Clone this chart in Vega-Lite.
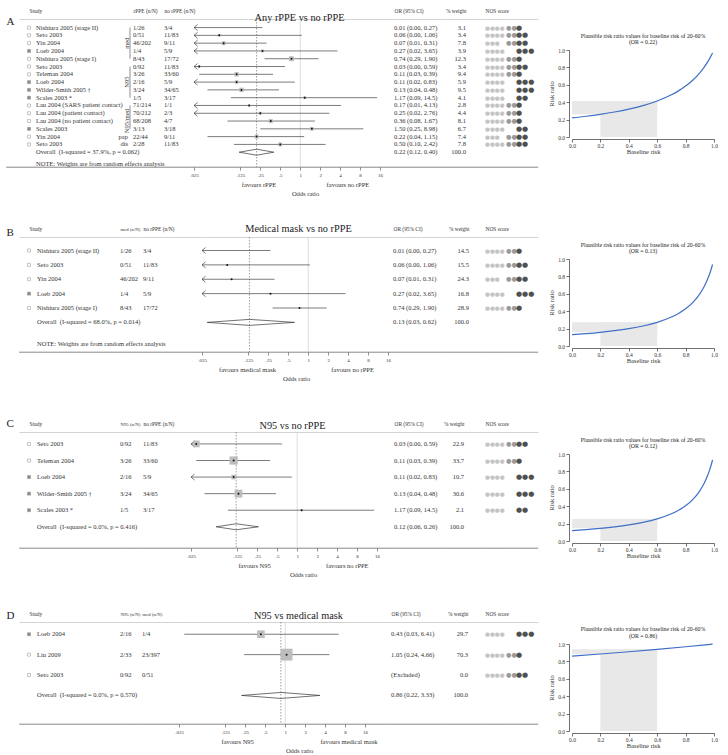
{
"$schema":"https://vega.github.io/schema/vega-lite/v6.json",
"padding":{"left":5,"top":8,"right":0,"bottom":0},
"background":"#ffffff",
"config":{
"font":"Liberation Serif",
"view":{"stroke":null},
"text":{"fontSize":6.5,"color":"#333333","baseline":"middle","font":"Liberation Serif"},
"title":{"fontWeight":"normal","color":"#222222","font":"Liberation Serif"},
"axis":{"labelFont":"Liberation Serif","titleFont":"Liberation Serif","labelColor":"#333333","titleColor":"#333333","titleFontWeight":"normal","grid":false,"domainColor":"#333333","tickColor":"#333333","labelOverlap":false},
"axisTop":{"domain":true,"domainColor":"#c8c8c8","domainWidth":0.8,"ticks":false,"labelPadding":5.5,"labelFontSize":5.4,"labelAngle":0},
"point":{"opacity":1}
},
"datasets":{
"A":[
{"id":"a1","kind":"study","mk":"open","name":"Nishiura 2005 (stage II)","n1":"1/26","n2":"3/4","or":0.01,"lo":0,"hi":0.27,"ci":"0.01 (0.00, 0.27)","w":3.1,"s":"●●●●","c":"●●","o":"●"},
{"id":"a2","kind":"study","mk":"open","name":"Seto 2003","n1":"0/51","n2":"11/83","or":0.06,"lo":0,"hi":1.06,"ci":"0.06 (0.00, 1.06)","w":3.4,"s":"●●●●","c":"●●","o":"●●"},
{"id":"a3","kind":"study","mk":"open","name":"Yin 2004","n1":"46/202","n2":"9/11","or":0.07,"lo":0.01,"hi":0.31,"ci":"0.07 (0.01, 0.31)","w":7.8,"s":"●●●","c":"●●","o":"●●"},
{"id":"a4","kind":"study","mk":"filled","name":"Loeb 2004","n1":"1/4","n2":"5/9","or":0.27,"lo":0.02,"hi":3.65,"ci":"0.27 (0.02, 3.65)","w":3.9,"s":"●●●●","c":"","o":"●●●"},
{"id":"a5","kind":"study","mk":"open","name":"Nishiura 2005 (stage I)","n1":"8/43","n2":"17/72","or":0.74,"lo":0.29,"hi":1.9,"ci":"0.74 (0.29, 1.90)","w":12.3,"s":"●●●●","c":"●●","o":"●"},
{"id":"a6","kind":"study","mk":"open","name":"Seto 2003","n1":"0/92","n2":"11/83","or":0.03,"lo":0,"hi":0.59,"ci":"0.03 (0.00, 0.59)","w":3.4,"s":"●●●●","c":"●●","o":"●●"},
{"id":"a7","kind":"study","mk":"open","name":"Teleman 2004","n1":"3/26","n2":"33/60","or":0.11,"lo":0.03,"hi":0.39,"ci":"0.11 (0.03, 0.39)","w":9.4,"s":"●●●●","c":"●●","o":"●"},
{"id":"a8","kind":"study","mk":"filled","name":"Loeb 2004","n1":"2/16","n2":"5/9","or":0.11,"lo":0.02,"hi":0.83,"ci":"0.11 (0.02, 0.83)","w":5.9,"s":"●●●●","c":"","o":"●●●"},
{"id":"a9","kind":"study","mk":"filled","name":"Wilder-Smith 2005 †","n1":"3/24","n2":"34/65","or":0.13,"lo":0.04,"hi":0.48,"ci":"0.13 (0.04, 0.48)","w":9.5,"s":"●●●●","c":"","o":"●●●"},
{"id":"a10","kind":"study","mk":"filled","name":"Scales 2003 *","n1":"1/5","n2":"3/17","or":1.17,"lo":0.09,"hi":14.5,"ci":"1.17 (0.09, 14.5)","w":4.1,"s":"●●●●","c":"","o":"●●"},
{"id":"a11","kind":"study","mk":"open","name":"Lau 2004 (SARS patient contact)","n1":"71/214","n2":"1/1","or":0.17,"lo":0.01,"hi":4.13,"ci":"0.17 (0.01, 4.13)","w":2.8,"s":"●●●●","c":"●●","o":"●"},
{"id":"a12","kind":"study","mk":"open","name":"Lau 2004 (patient contact)","n1":"70/212","n2":"2/3","or":0.25,"lo":0.02,"hi":2.76,"ci":"0.25 (0.02, 2.76)","w":4.4,"s":"●●●●","c":"●●","o":"●"},
{"id":"a13","kind":"study","mk":"open","name":"Lau 2004 (no patient contact)","n1":"68/208","n2":"4/7","or":0.36,"lo":0.08,"hi":1.67,"ci":"0.36 (0.08, 1.67)","w":8.1,"s":"●●●●","c":"●●","o":"●"},
{"id":"a14","kind":"study","mk":"filled","name":"Scales 2003","n1":"3/13","n2":"3/18","or":1.5,"lo":0.25,"hi":8.98,"ci":"1.50 (0.25, 8.98)","w":6.7,"s":"●●●●","c":"","o":"●●"},
{"id":"a15","kind":"study","mk":"open","name":"Yin 2004","type":"pap","n1":"22/44","n2":"9/11","or":0.22,"lo":0.04,"hi":1.15,"ci":"0.22 (0.04, 1.15)","w":7.4,"s":"●●●","c":"●●","o":"●●"},
{"id":"a16","kind":"study","mk":"open","name":"Seto 2003","type":"dis","n1":"2/28","n2":"11/83","or":0.5,"lo":0.1,"hi":2.42,"ci":"0.50 (0.10, 2.42)","w":7.8,"s":"●●●●","c":"●●","o":"●●"},
{"id":"aO","kind":"overall","name":"Overall\u00a0\u00a0(I-squared = 37.9%, p = 0.062)","or":0.22,"lo":0.12,"hi":0.4,"ci":"0.22 (0.12, 0.40)","w":100},
{"id":"aN","kind":"note","name":"NOTE: Weights are from random effects analysis"}
],
"gA":[
{"g":"med","from":"a1","to":"a5","mid":"a3"},
{"g":"N95","from":"a6","to":"a10","mid":"a8"},
{"g":"N95/med","from":"a11","to":"a14","mid":"a13"}
],
"dA":[{"x":0.12,"h":0},{"x":0.22,"h":1},{"x":0.4,"h":0},{"x":0.22,"h":-1}],
"B":[
{"id":"b1","kind":"study","mk":"open","name":"Nishiura 2005 (stage II)","n1":"1/26","n2":"3/4","or":0.01,"lo":0,"hi":0.27,"ci":"0.01 (0.00, 0.27)","w":14.5,"s":"●●●●","c":"●●","o":"●"},
{"id":"b2","kind":"study","mk":"open","name":"Seto 2003","n1":"0/51","n2":"11/83","or":0.06,"lo":0,"hi":1.06,"ci":"0.06 (0.00, 1.06)","w":15.5,"s":"●●●●","c":"●●","o":"●●"},
{"id":"b3","kind":"study","mk":"open","name":"Yin 2004","n1":"46/202","n2":"9/11","or":0.07,"lo":0.01,"hi":0.31,"ci":"0.07 (0.01, 0.31)","w":24.3,"s":"●●●","c":"●●","o":"●●"},
{"id":"b4","kind":"study","mk":"filled","name":"Loeb 2004","n1":"1/4","n2":"5/9","or":0.27,"lo":0.02,"hi":3.65,"ci":"0.27 (0.02, 3.65)","w":16.8,"s":"●●●●","c":"","o":"●●●"},
{"id":"b5","kind":"study","mk":"open","name":"Nishiura 2005 (stage I)","n1":"8/43","n2":"17/72","or":0.74,"lo":0.29,"hi":1.9,"ci":"0.74 (0.29, 1.90)","w":28.9,"s":"●●●●","c":"●●","o":"●"},
{"id":"bO","kind":"overall","name":"Overall\u00a0\u00a0(I-squared = 68.0%, p = 0.014)","or":0.13,"lo":0.03,"hi":0.62,"ci":"0.13 (0.03, 0.62)","w":100},
{"id":"bN","kind":"note","name":"NOTE: Weights are from random effects analysis"}
],
"dB":[{"x":0.03,"h":0},{"x":0.13,"h":1},{"x":0.62,"h":0},{"x":0.13,"h":-1}],
"C":[
{"id":"c1","kind":"study","mk":"open","name":"Seto 2003","n1":"0/92","n2":"11/83","or":0.03,"lo":0,"hi":0.59,"ci":"0.03 (0.00, 0.59)","w":22.9,"s":"●●●●","c":"●●","o":"●●"},
{"id":"c2","kind":"study","mk":"open","name":"Teleman 2004","n1":"3/26","n2":"33/60","or":0.11,"lo":0.03,"hi":0.39,"ci":"0.11 (0.03, 0.39)","w":33.7,"s":"●●●●","c":"●●","o":"●"},
{"id":"c3","kind":"study","mk":"filled","name":"Loeb 2004","n1":"2/16","n2":"5/9","or":0.11,"lo":0.02,"hi":0.83,"ci":"0.11 (0.02, 0.83)","w":10.7,"s":"●●●●","c":"","o":"●●●"},
{"id":"c4","kind":"study","mk":"filled","name":"Wilder-Smith 2005 †","n1":"3/24","n2":"34/65","or":0.13,"lo":0.04,"hi":0.48,"ci":"0.13 (0.04, 0.48)","w":30.6,"s":"●●●●","c":"","o":"●●●"},
{"id":"c5","kind":"study","mk":"filled","name":"Scales 2003 *","n1":"1/5","n2":"3/17","or":1.17,"lo":0.09,"hi":14.5,"ci":"1.17 (0.09, 14.5)","w":2.1,"s":"●●●●","c":"","o":"●●"},
{"id":"cO","kind":"overall","name":"Overall\u00a0\u00a0(I-squared = 0.0%, p = 0.416)","or":0.12,"lo":0.06,"hi":0.26,"ci":"0.12 (0.06, 0.26)","w":100}
],
"dC":[{"x":0.06,"h":0},{"x":0.12,"h":1},{"x":0.26,"h":0},{"x":0.12,"h":-1}],
"D":[
{"id":"d1","kind":"study","mk":"filled","name":"Loeb 2004","n1":"2/16","n2":"1/4","or":0.43,"lo":0.03,"hi":6.41,"ci":"0.43 (0.03, 6.41)","w":29.7,"s":"●●●●","c":"","o":"●●●"},
{"id":"d2","kind":"study","mk":"open","name":"Liu 2009","n1":"2/33","n2":"23/397","or":1.05,"lo":0.24,"hi":4.66,"ci":"1.05 (0.24, 4.66)","w":70.3,"s":"●●●●","c":"●●","o":"●"},
{"id":"d3","kind":"study","mk":"open","name":"Seto 2003","n1":"0/92","n2":"0/51","ci":"(Excluded)","w":0,"s":"●●●●","c":"●●","o":"●●"},
{"id":"dO","kind":"overall","name":"Overall\u00a0\u00a0(I-squared = 0.0%, p = 0.570)","or":0.86,"lo":0.22,"hi":3.33,"ci":"0.86 (0.22, 3.33)","w":100}
],
"dD":[{"x":0.22,"h":0},{"x":0.86,"h":1},{"x":3.33,"h":0},{"x":0.86,"h":-1}],
"risk":[
{"pn":"A","p":0,"rr":0.22},{"pn":"A","p":0.1,"rr":0.2386},{"pn":"A","p":0.2,"rr":0.2607},{"pn":"A","p":0.3,"rr":0.2872},{"pn":"A","p":0.4,"rr":0.3198},{"pn":"A","p":0.5,"rr":0.3607},{"pn":"A","p":0.6,"rr":0.4135},{"pn":"A","p":0.7,"rr":0.4846},{"pn":"A","p":0.75,"rr":0.5301},{"pn":"A","p":0.8,"rr":0.5851},{"pn":"A","p":0.85,"rr":0.6528},{"pn":"A","p":0.9,"rr":0.7383},{"pn":"A","p":0.93,"rr":0.8012},{"pn":"A","p":0.95,"rr":0.8494},{"pn":"A","p":0.97,"rr":0.9039},{"pn":"A","p":0.99,"rr":0.9658},
{"pn":"B","p":0,"rr":0.13},{"pn":"B","p":0.1,"rr":0.1424},{"pn":"B","p":0.2,"rr":0.1574},{"pn":"B","p":0.3,"rr":0.1759},{"pn":"B","p":0.4,"rr":0.1994},{"pn":"B","p":0.5,"rr":0.2301},{"pn":"B","p":0.6,"rr":0.272},{"pn":"B","p":0.7,"rr":0.3325},{"pn":"B","p":0.75,"rr":0.3741},{"pn":"B","p":0.8,"rr":0.4276},{"pn":"B","p":0.85,"rr":0.499},{"pn":"B","p":0.9,"rr":0.5991},{"pn":"B","p":0.93,"rr":0.681},{"pn":"B","p":0.95,"rr":0.7493},{"pn":"B","p":0.97,"rr":0.8328},{"pn":"B","p":0.99,"rr":0.9373},
{"pn":"C","p":0,"rr":0.12},{"pn":"C","p":0.1,"rr":0.1316},{"pn":"C","p":0.2,"rr":0.1456},{"pn":"C","p":0.3,"rr":0.163},{"pn":"C","p":0.4,"rr":0.1852},{"pn":"C","p":0.5,"rr":0.2143},{"pn":"C","p":0.6,"rr":0.2542},{"pn":"C","p":0.7,"rr":0.3125},{"pn":"C","p":0.75,"rr":0.3529},{"pn":"C","p":0.8,"rr":0.4054},{"pn":"C","p":0.85,"rr":0.4762},{"pn":"C","p":0.9,"rr":0.5769},{"pn":"C","p":0.93,"rr":0.6608},{"pn":"C","p":0.95,"rr":0.7317},{"pn":"C","p":0.97,"rr":0.8197},{"pn":"C","p":0.99,"rr":0.9317},
{"pn":"D","p":0,"rr":0.86},{"pn":"D","p":0.2,"rr":0.8848},{"pn":"D","p":0.4,"rr":0.911},{"pn":"D","p":0.6,"rr":0.9389},{"pn":"D","p":0.8,"rr":0.9685},{"pn":"D","p":0.99,"rr":0.9984}
],
"riskRect":[
{"pn":"A","x":0,"x2":0.6,"y":0.2607,"y2":0.4135},{"pn":"A","x":0.2,"x2":0.6,"y":0,"y2":0.4135},
{"pn":"B","x":0,"x2":0.6,"y":0.1574,"y2":0.272},{"pn":"B","x":0.2,"x2":0.6,"y":0,"y2":0.272},
{"pn":"C","x":0,"x2":0.6,"y":0.1456,"y2":0.2542},{"pn":"C","x":0.2,"x2":0.6,"y":0,"y2":0.2542},
{"pn":"D","x":0,"x2":0.6,"y":0.8848,"y2":0.9389},{"pn":"D","x":0.2,"x2":0.6,"y":0,"y2":0.9389}
]
},
"hconcat":[
{"vconcat":[
{"hconcat":[
{"width":23,"height":148,"data":{"name":"A"},"transform":[{"filter":"datum.kind=='overall'"}],"mark":{"type":"text"},"encoding":{"text":{"value":""},"x":{"datum":"lead","type":"nominal","scale":{"type":"point","range":[13,23]},"axis":{"orient":"top","title":"A","titleX":0,"titleY":5,"titleAlign":"left","titleBaseline":"alphabetic","titleFontSize":11,"titleColor":"#222222","labels":false}}},"view":{"stroke":"#555555","strokeWidth":0.7,"strokeDash":[0,171,23,148]}},
{"width":7,"height":148,"data":{"name":"A"},"transform":[{"filter":"isValid(datum.mk)"}],"mark":{"type":"point","shape":"square","filled":true,"size":9,"stroke":"#8c8c8c","strokeWidth":0.5},"encoding":{"x":{"datum":"Study","type":"nominal","scale":{"type":"point","align":0},"axis":{"orient":"top","title":null,"labelAlign":"left"}},"y":{"field":"id","type":"nominal","scale":{"type":"point","domain":["a1","a2","a3","a4","a5","a6","a7","a8","a9","a10","a11","a12","a13","a14","a15","a16","aO","aN"],"padding":1.05,"align":0.55},"axis":null},"fill":{"field":"mk","type":"nominal","scale":{"domain":["open","filled"],"range":["#ffffff","#8c8c8c"]},"legend":null}},"view":{"stroke":"#555555","strokeWidth":0.7,"strokeDash":[0,155,7,148]}},
{"width":85,"height":148,"data":{"name":"A"},"encoding":{"x":{"datum":"name","type":"nominal","scale":{"type":"point","align":0},"axis":{"orient":"top","title":null,"labels":false}},"y":{"field":"id","type":"nominal","scale":{"type":"point","domain":["a1","a2","a3","a4","a5","a6","a7","a8","a9","a10","a11","a12","a13","a14","a15","a16","aO","aN"],"padding":1.05,"align":0.55},"axis":null},"text":{"field":"name"}},"layer":[{"transform":[{"filter":"datum.kind!='note'"}],"mark":{"type":"text","align":"left"}},{"transform":[{"filter":"datum.kind=='note'"}],"mark":{"type":"text","align":"left","dy":4}}],"view":{"stroke":"#555555","strokeWidth":0.7,"strokeDash":[0,233,85,148]}},
{"width":12,"height":148,"encoding":{"x":{"datum":"grp","type":"nominal","scale":{"type":"point","align":0.75},"axis":{"orient":"top","title":null,"labels":false}}},"layer":[
{"data":{"name":"gA"},"mark":{"type":"rule","color":"#444444","strokeWidth":0.6},"encoding":{"y":{"field":"from","type":"nominal","scale":{"type":"point","domain":["a1","a2","a3","a4","a5","a6","a7","a8","a9","a10","a11","a12","a13","a14","a15","a16","aO","aN"],"padding":1.05,"align":0.55},"axis":null},"y2":{"field":"to"}}},
{"data":{"name":"gA"},"mark":{"type":"text","angle":270,"baseline":"bottom","align":"center"},"encoding":{"y":{"field":"mid","type":"nominal","axis":null},"text":{"field":"g"}}},
{"data":{"name":"A"},"transform":[{"filter":"isValid(datum.type)"}],"mark":{"type":"text","align":"right","dx":-2},"encoding":{"y":{"field":"id","type":"nominal","axis":null},"text":{"field":"type"}}}
],"view":{"stroke":"#555555","strokeWidth":0.7,"strokeDash":[0,160,12,148]}},
{"width":31,"height":148,"data":{"name":"A"},"transform":[{"filter":"datum.kind=='study'"}],"mark":{"type":"text","align":"left"},"encoding":{"x":{"datum":"rPPE (n/N)","type":"nominal","scale":{"type":"point","align":0},"axis":{"orient":"top","title":null,"labelAlign":"left"}},"y":{"field":"id","type":"nominal","scale":{"type":"point","domain":["a1","a2","a3","a4","a5","a6","a7","a8","a9","a10","a11","a12","a13","a14","a15","a16","aO","aN"],"padding":1.05,"align":0.55},"axis":null},"text":{"field":"n1"}},"view":{"stroke":"#555555","strokeWidth":0.7,"strokeDash":[0,179,31,148]}},
{"width":30,"height":148,"data":{"name":"A"},"transform":[{"filter":"datum.kind=='study'"}],"mark":{"type":"text","align":"left"},"encoding":{"x":{"datum":"no rPPE (n/N)","type":"nominal","scale":{"type":"point","align":0},"axis":{"orient":"top","title":null,"labelAlign":"left"}},"y":{"field":"id","type":"nominal","scale":{"type":"point","domain":["a1","a2","a3","a4","a5","a6","a7","a8","a9","a10","a11","a12","a13","a14","a15","a16","aO","aN"],"padding":1.05,"align":0.55},"axis":null},"text":{"field":"n2"}},"view":{"stroke":"#555555","strokeWidth":0.7,"strokeDash":[0,178,30,148]}},
{"width":200,"height":148,"data":{"name":"A"},"view":{"stroke":"#555555","strokeWidth":0.7,"strokeDash":[0,348,200,148]},"resolve":{"scale":{"x":"independent"},"axis":{"x":"independent"}},"layer":[
{"transform":[{"filter":"datum.kind=='overall'"}],"mark":{"type":"rule","strokeOpacity":0},"encoding":{"x":{"datum":"t","type":"nominal","scale":{"type":"point"},"axis":{"orient":"top","title":"Any rPPE vs no rPPE","titleX":105,"titleY":1,"titleAlign":"center","titleBaseline":"alphabetic","titleFontSize":10.3,"titleColor":"#222222","labels":false}}}},
{"layer":[
{"transform":[{"filter":"datum.kind=='overall'"}],"mark":{"type":"rule","color":"#cfcfcf","strokeWidth":0.7},"encoding":{"x":{"datum":1,"type":"quantitative","scale":{"type":"log","domain":[0.025,16],"range":[0,186],"clamp":true,"nice":false},"axis":{"orient":"bottom","values":[0.025,0.125,0.25,0.5,1,2,4,8,16],"format":"~g","labelExpr":"datum.value < 1 ? substring(datum.label, 1) : datum.label","domain":false,"tickSize":3,"tickColor":"#444444","tickWidth":0.6,"labelFontSize":5,"labelPadding":2,"labelOverlap":false,"labelFlush":false,"title":["favours rPPE\u00a0\u00a0\u00a0\u00a0\u00a0\u00a0\u00a0\u00a0\u00a0\u00a0\u00a0\u00a0\u00a0\u00a0\u00a0\u00a0\u00a0\u00a0\u00a0\u00a0\u00a0\u00a0\u00a0\u00a0\u00a0\u00a0\u00a0\u00a0\u00a0\u00a0\u00a0favours no rPPE","Odds ratio\u00a0\u00a0\u00a0\u00a0"],"titleFontSize":6.5,"titleLineHeight":9,"titlePadding":4,"titleX":111}}}},
{"transform":[{"filter":"datum.kind=='overall'"}],"mark":{"type":"rule","color":"#777777","strokeWidth":0.7,"strokeDash":[1.5,1.5]},"encoding":{"x":{"field":"or","type":"quantitative"}}},
{"transform":[{"filter":"datum.kind=='study' && isValid(datum.hi)"}],"mark":{"type":"rule","color":"#444444","strokeWidth":0.7},"encoding":{"x":{"field":"lo","type":"quantitative"},"x2":{"field":"hi"},"y":{"field":"id","type":"nominal","scale":{"type":"point","domain":["a1","a2","a3","a4","a5","a6","a7","a8","a9","a10","a11","a12","a13","a14","a15","a16","aO","aN"],"padding":1.05,"align":0.55},"axis":null}}},
{"transform":[{"filter":"datum.kind=='study' && isValid(datum.lo) && datum.lo < 0.025"}],"mark":{"type":"point","shape":"M1.2,-1L0,0L1.2,1","filled":false,"stroke":"#444444","strokeWidth":0.7,"size":36},"encoding":{"x":{"field":"lo","type":"quantitative"},"y":{"field":"id","type":"nominal","axis":null}}},
{"transform":[{"filter":"datum.kind=='study' && datum.or >= 0.025"}],"mark":{"type":"point","shape":"square","filled":true,"color":"#bdbdbd"},"encoding":{"x":{"field":"or","type":"quantitative"},"y":{"field":"id","type":"nominal","axis":null},"size":{"field":"w","type":"quantitative","scale":{"domain":[0,100],"range":[0,200]},"legend":null}}},
{"transform":[{"filter":"datum.kind=='study' && datum.or >= 0.025"}],"mark":{"type":"point","shape":"circle","filled":true,"color":"#111111","size":4},"encoding":{"x":{"field":"or","type":"quantitative"},"y":{"field":"id","type":"nominal","axis":null}}},
{"data":{"name":"dA"},"mark":{"type":"line","color":"#333333","strokeWidth":0.7,"interpolate":"linear-closed"},"encoding":{"x":{"field":"x","type":"quantitative"},"y":{"datum":"aO","type":"nominal","axis":null},"yOffset":{"field":"h","type":"quantitative","scale":{"domain":[-1,1],"range":[-3,3]}},"order":{"value":null}}}
]}
]},
{"width":47,"height":148,"data":{"name":"A"},"transform":[{"filter":"isValid(datum.ci)"}],"mark":{"type":"text","align":"left"},"encoding":{"x":{"datum":"OR (95% CI)","type":"nominal","scale":{"type":"point","align":0},"axis":{"orient":"top","title":null,"labelAlign":"left"}},"y":{"field":"id","type":"nominal","scale":{"type":"point","domain":["a1","a2","a3","a4","a5","a6","a7","a8","a9","a10","a11","a12","a13","a14","a15","a16","aO","aN"],"padding":1.05,"align":0.55},"axis":null},"text":{"field":"ci"}},"view":{"stroke":"#555555","strokeWidth":0.7,"strokeDash":[0,195,47,148]}},
{"width":44,"height":148,"data":{"name":"A"},"transform":[{"filter":"isValid(datum.w)"}],"mark":{"type":"text","align":"right"},"encoding":{"x":{"datum":"% weight","type":"nominal","scale":{"type":"point","align":0.568},"axis":{"orient":"top","title":null,"labelAlign":"right"}},"y":{"field":"id","type":"nominal","scale":{"type":"point","domain":["a1","a2","a3","a4","a5","a6","a7","a8","a9","a10","a11","a12","a13","a14","a15","a16","aO","aN"],"padding":1.05,"align":0.55},"axis":null},"text":{"field":"w","type":"quantitative","format":".1f"}},"view":{"stroke":"#555555","strokeWidth":0.7,"strokeDash":[0,192,44,148]}},
{"width":21,"height":148,"data":{"name":"A"},"transform":[{"filter":"isValid(datum.s)"}],"mark":{"type":"text","align":"left","font":"DejaVu Sans","fontSize":5.6,"color":"#c4c4c4"},"encoding":{"x":{"datum":"NOS score","type":"nominal","scale":{"type":"point","align":0},"axis":{"orient":"top","title":null,"labelAlign":"left"}},"y":{"field":"id","type":"nominal","scale":{"type":"point","domain":["a1","a2","a3","a4","a5","a6","a7","a8","a9","a10","a11","a12","a13","a14","a15","a16","aO","aN"],"padding":1.05,"align":0.55},"axis":null},"text":{"field":"s"}},"view":{"stroke":"#555555","strokeWidth":0.7,"strokeDash":[0,169,21,148]}},
{"width":10,"height":148,"data":{"name":"A"},"transform":[{"filter":"isValid(datum.c)"}],"mark":{"type":"text","align":"left","font":"DejaVu Sans","fontSize":6.2,"color":"#9a9a9a"},"encoding":{"x":{"datum":"nos2","type":"nominal","scale":{"type":"point","align":0},"axis":{"orient":"top","title":null,"labels":false}},"y":{"field":"id","type":"nominal","scale":{"type":"point","domain":["a1","a2","a3","a4","a5","a6","a7","a8","a9","a10","a11","a12","a13","a14","a15","a16","aO","aN"],"padding":1.05,"align":0.55},"axis":null},"text":{"field":"c"}},"view":{"stroke":"#555555","strokeWidth":0.7,"strokeDash":[0,158,10,148]}},
{"width":22,"height":148,"data":{"name":"A"},"transform":[{"filter":"isValid(datum.o)"}],"mark":{"type":"text","align":"left","font":"DejaVu Sans","fontSize":7,"color":"#505050"},"encoding":{"x":{"datum":"nos3","type":"nominal","scale":{"type":"point","align":0},"axis":{"orient":"top","title":null,"labels":false}},"y":{"field":"id","type":"nominal","scale":{"type":"point","domain":["a1","a2","a3","a4","a5","a6","a7","a8","a9","a10","a11","a12","a13","a14","a15","a16","aO","aN"],"padding":1.05,"align":0.55},"axis":null},"text":{"field":"o"}},"view":{"stroke":"#555555","strokeWidth":0.7,"strokeDash":[0,170,22,148]}}
],"spacing":0,"bounds":"flush"},

{"vconcat":[
{"hconcat":[
{"width":23,"height":115,"data":{"name":"B"},"transform":[{"filter":"datum.kind=='overall'"}],"mark":{"type":"text"},"encoding":{"text":{"value":""},"x":{"datum":"lead","type":"nominal","scale":{"type":"point","range":[13,23]},"axis":{"orient":"top","title":"B","titleX":0,"titleY":-2,"titleAlign":"left","titleBaseline":"alphabetic","titleFontSize":11,"titleColor":"#222222","labels":false}}},"view":{"stroke":"#555555","strokeWidth":0.7,"strokeDash":[0,138,10,128]}},
{"width":8,"height":115,"data":{"name":"B"},"transform":[{"filter":"isValid(datum.mk)"}],"mark":{"type":"point","shape":"square","filled":true,"size":9,"stroke":"#8c8c8c","strokeWidth":0.5},"encoding":{"x":{"datum":"Study","type":"nominal","scale":{"type":"point","align":0},"axis":{"orient":"top","title":null,"labelAlign":"left"}},"y":{"field":"id","type":"nominal","scale":{"type":"point","domain":["b1","b2","b3","b4","b5","bO","bN"],"padding":1.06,"align":0.47},"axis":null},"fill":{"field":"mk","type":"nominal","scale":{"domain":["open","filled"],"range":["#ffffff","#8c8c8c"]},"legend":null}},"view":{"stroke":"#555555","strokeWidth":0.7,"strokeDash":[0,123,8,115]}},
{"width":83,"height":115,"data":{"name":"B"},"encoding":{"x":{"datum":"name","type":"nominal","scale":{"type":"point","align":0},"axis":{"orient":"top","title":null,"labels":false}},"y":{"field":"id","type":"nominal","scale":{"type":"point","domain":["b1","b2","b3","b4","b5","bO","bN"],"padding":1.06,"align":0.47},"axis":null},"text":{"field":"name"}},"layer":[{"transform":[{"filter":"datum.kind!='note'"}],"mark":{"type":"text","align":"left"}},{"transform":[{"filter":"datum.kind=='note'"}],"mark":{"type":"text","align":"left","dy":7}}],"view":{"stroke":"#555555","strokeWidth":0.7,"strokeDash":[0,198,83,115]}},
{"width":23,"height":115,"data":{"name":"B"},"transform":[{"filter":"datum.kind=='study'"}],"mark":{"type":"text","align":"left"},"encoding":{"x":{"datum":"med (n/N)","type":"nominal","scale":{"type":"point","align":0},"axis":{"orient":"top","title":null,"labelAlign":"left","labelFontSize":4.8}},"y":{"field":"id","type":"nominal","scale":{"type":"point","domain":["b1","b2","b3","b4","b5","bO","bN"],"padding":1.06,"align":0.47},"axis":null},"text":{"field":"n1"}},"view":{"stroke":"#555555","strokeWidth":0.7,"strokeDash":[0,138,23,115]}},
{"width":59,"height":115,"data":{"name":"B"},"transform":[{"filter":"datum.kind=='study'"}],"mark":{"type":"text","align":"left"},"encoding":{"x":{"datum":"no rPPE (n/N)","type":"nominal","scale":{"type":"point","align":0},"axis":{"orient":"top","title":null,"labelAlign":"left"}},"y":{"field":"id","type":"nominal","scale":{"type":"point","domain":["b1","b2","b3","b4","b5","bO","bN"],"padding":1.06,"align":0.47},"axis":null},"text":{"field":"n2"}},"view":{"stroke":"#555555","strokeWidth":0.7,"strokeDash":[0,174,59,115]}},
{"width":191,"height":115,"data":{"name":"B"},"view":{"stroke":"#555555","strokeWidth":0.7,"strokeDash":[0,306,191,115]},"resolve":{"scale":{"x":"independent"},"axis":{"x":"independent"}},"layer":[
{"transform":[{"filter":"datum.kind=='overall'"}],"mark":{"type":"rule","strokeOpacity":0},"encoding":{"x":{"datum":"t","type":"nominal","scale":{"type":"point"},"axis":{"orient":"top","title":"Medical mask vs no rPPE","titleX":96,"titleY":-6,"titleAlign":"center","titleBaseline":"alphabetic","titleFontSize":10.3,"titleColor":"#222222","labels":false}}}},
{"layer":[
{"transform":[{"filter":"datum.kind=='overall'"}],"mark":{"type":"rule","color":"#cfcfcf","strokeWidth":0.7},"encoding":{"x":{"datum":1,"type":"quantitative","scale":{"type":"log","domain":[0.025,16],"range":[0,186],"clamp":true,"nice":false},"axis":{"orient":"bottom","values":[0.025,0.125,0.25,0.5,1,2,4,8,16],"format":"~g","labelExpr":"datum.value < 1 ? substring(datum.label, 1) : datum.label","domain":false,"tickSize":3,"tickColor":"#444444","tickWidth":0.6,"labelFontSize":5,"labelPadding":2,"labelOverlap":false,"labelFlush":false,"title":["favours medical mask\u00a0\u00a0\u00a0\u00a0\u00a0\u00a0\u00a0\u00a0\u00a0\u00a0\u00a0\u00a0\u00a0\u00a0\u00a0\u00a0\u00a0\u00a0\u00a0\u00a0\u00a0\u00a0\u00a0\u00a0\u00a0\u00a0\u00a0\u00a0\u00a0\u00a0\u00a0\u00a0\u00a0\u00a0favours no rPPE","\u00a0\u00a0\u00a0\u00a0\u00a0\u00a0\u00a0\u00a0\u00a0\u00a0Odds ratio"],"titleFontSize":6.5,"titleLineHeight":9,"titlePadding":4,"titleX":94}}}},
{"transform":[{"filter":"datum.kind=='overall'"}],"mark":{"type":"rule","color":"#777777","strokeWidth":0.7,"strokeDash":[1.5,1.5]},"encoding":{"x":{"field":"or","type":"quantitative"}}},
{"transform":[{"filter":"datum.kind=='study' && isValid(datum.hi)"}],"mark":{"type":"rule","color":"#444444","strokeWidth":0.7},"encoding":{"x":{"field":"lo","type":"quantitative"},"x2":{"field":"hi"},"y":{"field":"id","type":"nominal","scale":{"type":"point","domain":["b1","b2","b3","b4","b5","bO","bN"],"padding":1.06,"align":0.47},"axis":null}}},
{"transform":[{"filter":"datum.kind=='study' && isValid(datum.lo) && datum.lo < 0.025"}],"mark":{"type":"point","shape":"M1.2,-1L0,0L1.2,1","filled":false,"stroke":"#444444","strokeWidth":0.7,"size":36},"encoding":{"x":{"field":"lo","type":"quantitative"},"y":{"field":"id","type":"nominal","axis":null}}},
{"transform":[{"filter":"datum.kind=='study' && datum.or >= 0.025"}],"mark":{"type":"point","shape":"circle","filled":true,"color":"#111111","size":4},"encoding":{"x":{"field":"or","type":"quantitative"},"y":{"field":"id","type":"nominal","axis":null}}},
{"data":{"name":"dB"},"mark":{"type":"line","color":"#333333","strokeWidth":0.7,"interpolate":"linear-closed"},"encoding":{"x":{"field":"x","type":"quantitative"},"y":{"datum":"bO","type":"nominal","axis":null},"yOffset":{"field":"h","type":"quantitative","scale":{"domain":[-1,1],"range":[-6,6]}},"order":{"value":null}}}
]}
]},
{"width":48,"height":115,"data":{"name":"B"},"transform":[{"filter":"isValid(datum.ci)"}],"mark":{"type":"text","align":"left"},"encoding":{"x":{"datum":"OR (95% CI)","type":"nominal","scale":{"type":"point","align":0},"axis":{"orient":"top","title":null,"labelAlign":"left"}},"y":{"field":"id","type":"nominal","scale":{"type":"point","domain":["b1","b2","b3","b4","b5","bO","bN"],"padding":1.06,"align":0.47},"axis":null},"text":{"field":"ci"}},"view":{"stroke":"#555555","strokeWidth":0.7,"strokeDash":[0,163,48,115]}},
{"width":44,"height":115,"data":{"name":"B"},"transform":[{"filter":"isValid(datum.w)"}],"mark":{"type":"text","align":"right"},"encoding":{"x":{"datum":"% weight","type":"nominal","scale":{"type":"point","align":0.636},"axis":{"orient":"top","title":null,"labelAlign":"right"}},"y":{"field":"id","type":"nominal","scale":{"type":"point","domain":["b1","b2","b3","b4","b5","bO","bN"],"padding":1.06,"align":0.47},"axis":null},"text":{"field":"w","type":"quantitative","format":".1f"}},"view":{"stroke":"#555555","strokeWidth":0.7,"strokeDash":[0,159,44,115]}},
{"width":21,"height":115,"data":{"name":"B"},"transform":[{"filter":"isValid(datum.s)"}],"mark":{"type":"text","align":"left","font":"DejaVu Sans","fontSize":5.6,"color":"#c4c4c4"},"encoding":{"x":{"datum":"NOS score","type":"nominal","scale":{"type":"point","align":0},"axis":{"orient":"top","title":null,"labelAlign":"left"}},"y":{"field":"id","type":"nominal","scale":{"type":"point","domain":["b1","b2","b3","b4","b5","bO","bN"],"padding":1.06,"align":0.47},"axis":null},"text":{"field":"s"}},"view":{"stroke":"#555555","strokeWidth":0.7,"strokeDash":[0,136,21,115]}},
{"width":10,"height":115,"data":{"name":"B"},"transform":[{"filter":"isValid(datum.c)"}],"mark":{"type":"text","align":"left","font":"DejaVu Sans","fontSize":6.2,"color":"#9a9a9a"},"encoding":{"x":{"datum":"nos2","type":"nominal","scale":{"type":"point","align":0},"axis":{"orient":"top","title":null,"labels":false}},"y":{"field":"id","type":"nominal","scale":{"type":"point","domain":["b1","b2","b3","b4","b5","bO","bN"],"padding":1.06,"align":0.47},"axis":null},"text":{"field":"c"}},"view":{"stroke":"#555555","strokeWidth":0.7,"strokeDash":[0,125,10,115]}},
{"width":22,"height":115,"data":{"name":"B"},"transform":[{"filter":"isValid(datum.o)"}],"mark":{"type":"text","align":"left","font":"DejaVu Sans","fontSize":7,"color":"#505050"},"encoding":{"x":{"datum":"nos3","type":"nominal","scale":{"type":"point","align":0},"axis":{"orient":"top","title":null,"labels":false}},"y":{"field":"id","type":"nominal","scale":{"type":"point","domain":["b1","b2","b3","b4","b5","bO","bN"],"padding":1.06,"align":0.47},"axis":null},"text":{"field":"o"}},"view":{"stroke":"#555555","strokeWidth":0.7,"strokeDash":[0,137,22,115]}}
],"spacing":0,"bounds":"flush"},

{"vconcat":[
{"hconcat":[
{"width":23,"height":116,"data":{"name":"C"},"transform":[{"filter":"datum.kind=='overall'"}],"mark":{"type":"text"},"encoding":{"text":{"value":""},"x":{"datum":"lead","type":"nominal","scale":{"type":"point","range":[13,23]},"axis":{"orient":"top","title":"C","titleX":0,"titleY":-6,"titleAlign":"left","titleBaseline":"alphabetic","titleFontSize":11,"titleColor":"#222222","labels":false}}},"view":{"stroke":"#555555","strokeWidth":0.7,"strokeDash":[0,139,10,129]}},
{"width":8,"height":116,"data":{"name":"C"},"transform":[{"filter":"isValid(datum.mk)"}],"mark":{"type":"point","shape":"square","filled":true,"size":9,"stroke":"#8c8c8c","strokeWidth":0.5},"encoding":{"x":{"datum":"Study","type":"nominal","scale":{"type":"point","align":0},"axis":{"orient":"top","title":null,"labelAlign":"left"}},"y":{"field":"id","type":"nominal","scale":{"type":"point","domain":["c1","c2","c3","c4","c5","cO"],"padding":1.53,"align":0.36},"axis":null},"fill":{"field":"mk","type":"nominal","scale":{"domain":["open","filled"],"range":["#ffffff","#8c8c8c"]},"legend":null}},"view":{"stroke":"#555555","strokeWidth":0.7,"strokeDash":[0,124,8,116]}},
{"width":83,"height":116,"data":{"name":"C"},"mark":{"type":"text","align":"left"},"encoding":{"x":{"datum":"name","type":"nominal","scale":{"type":"point","align":0},"axis":{"orient":"top","title":null,"labels":false}},"y":{"field":"id","type":"nominal","scale":{"type":"point","domain":["c1","c2","c3","c4","c5","cO"],"padding":1.53,"align":0.36},"axis":null},"text":{"field":"name"}},"view":{"stroke":"#555555","strokeWidth":0.7,"strokeDash":[0,199,83,116]}},
{"width":23,"height":116,"data":{"name":"C"},"transform":[{"filter":"datum.kind=='study'"}],"mark":{"type":"text","align":"left"},"encoding":{"x":{"datum":"N95 (n/N)","type":"nominal","scale":{"type":"point","align":0},"axis":{"orient":"top","title":null,"labelAlign":"left","labelFontSize":4.8}},"y":{"field":"id","type":"nominal","scale":{"type":"point","domain":["c1","c2","c3","c4","c5","cO"],"padding":1.53,"align":0.36},"axis":null},"text":{"field":"n1"}},"view":{"stroke":"#555555","strokeWidth":0.7,"strokeDash":[0,139,23,116]}},
{"width":48,"height":116,"data":{"name":"C"},"transform":[{"filter":"datum.kind=='study'"}],"mark":{"type":"text","align":"left"},"encoding":{"x":{"datum":"no rPPE (n/N)","type":"nominal","scale":{"type":"point","align":0},"axis":{"orient":"top","title":null,"labelAlign":"left"}},"y":{"field":"id","type":"nominal","scale":{"type":"point","domain":["c1","c2","c3","c4","c5","cO"],"padding":1.53,"align":0.36},"axis":null},"text":{"field":"n2"}},"view":{"stroke":"#555555","strokeWidth":0.7,"strokeDash":[0,164,48,116]}},
{"width":203,"height":116,"data":{"name":"C"},"view":{"stroke":"#555555","strokeWidth":0.7,"strokeDash":[0,319,203,116]},"resolve":{"scale":{"x":"independent"},"axis":{"x":"independent"}},"layer":[
{"transform":[{"filter":"datum.kind=='overall'"}],"mark":{"type":"rule","strokeOpacity":0},"encoding":{"x":{"datum":"t","type":"nominal","scale":{"type":"point"},"axis":{"orient":"top","title":"N95 vs no rPPE","titleX":101,"titleY":-4,"titleAlign":"center","titleBaseline":"alphabetic","titleFontSize":10.3,"titleColor":"#222222","labels":false}}}},
{"layer":[
{"transform":[{"filter":"datum.kind=='overall'"}],"mark":{"type":"rule","color":"#cfcfcf","strokeWidth":0.7},"encoding":{"x":{"datum":1,"type":"quantitative","scale":{"type":"log","domain":[0.025,16],"range":[0,186],"clamp":true,"nice":false},"axis":{"orient":"bottom","values":[0.025,0.125,0.25,0.5,1,2,4,8,16],"format":"~g","labelExpr":"datum.value < 1 ? substring(datum.label, 1) : datum.label","domain":false,"tickSize":3,"tickColor":"#444444","tickWidth":0.6,"labelFontSize":5,"labelPadding":2,"labelOverlap":false,"labelFlush":false,"title":["favours N95\u00a0\u00a0\u00a0\u00a0\u00a0\u00a0\u00a0\u00a0\u00a0\u00a0\u00a0\u00a0\u00a0\u00a0\u00a0\u00a0\u00a0\u00a0\u00a0\u00a0\u00a0\u00a0\u00a0\u00a0\u00a0\u00a0\u00a0\u00a0\u00a0\u00a0\u00a0\u00a0\u00a0\u00a0favours no rPPE","Odds ratio\u00a0\u00a0\u00a0\u00a0\u00a0\u00a0\u00a0\u00a0\u00a0"],"titleFontSize":6.5,"titleLineHeight":9,"titlePadding":4,"titleX":112}}}},
{"transform":[{"filter":"datum.kind=='overall'"}],"mark":{"type":"rule","color":"#777777","strokeWidth":0.7,"strokeDash":[1.5,1.5]},"encoding":{"x":{"field":"or","type":"quantitative"}}},
{"transform":[{"filter":"datum.kind=='study' && isValid(datum.hi)"}],"mark":{"type":"rule","color":"#444444","strokeWidth":0.7},"encoding":{"x":{"field":"lo","type":"quantitative"},"x2":{"field":"hi"},"y":{"field":"id","type":"nominal","scale":{"type":"point","domain":["c1","c2","c3","c4","c5","cO"],"padding":1.53,"align":0.36},"axis":null}}},
{"transform":[{"filter":"datum.kind=='study' && isValid(datum.lo) && datum.lo < 0.025"}],"mark":{"type":"point","shape":"M1.2,-1L0,0L1.2,1","filled":false,"stroke":"#444444","strokeWidth":0.7,"size":36},"encoding":{"x":{"field":"lo","type":"quantitative"},"y":{"field":"id","type":"nominal","axis":null}}},
{"transform":[{"filter":"datum.kind=='study' && datum.or >= 0.025"}],"mark":{"type":"point","shape":"square","filled":true,"color":"#bdbdbd"},"encoding":{"x":{"field":"or","type":"quantitative"},"y":{"field":"id","type":"nominal","axis":null},"size":{"field":"w","type":"quantitative","scale":{"domain":[0,100],"range":[0,200]},"legend":null}}},
{"transform":[{"filter":"datum.kind=='study' && datum.or >= 0.025"}],"mark":{"type":"point","shape":"circle","filled":true,"color":"#111111","size":4},"encoding":{"x":{"field":"or","type":"quantitative"},"y":{"field":"id","type":"nominal","axis":null}}},
{"data":{"name":"dC"},"mark":{"type":"line","color":"#333333","strokeWidth":0.7,"interpolate":"linear-closed"},"encoding":{"x":{"field":"x","type":"quantitative"},"y":{"datum":"cO","type":"nominal","axis":null},"yOffset":{"field":"h","type":"quantitative","scale":{"domain":[-1,1],"range":[-6.5,6.5]}},"order":{"value":null}}}
]}
]},
{"width":47,"height":116,"data":{"name":"C"},"transform":[{"filter":"isValid(datum.ci)"}],"mark":{"type":"text","align":"left"},"encoding":{"x":{"datum":"OR (95% CI)","type":"nominal","scale":{"type":"point","align":0},"axis":{"orient":"top","title":null,"labelAlign":"left"}},"y":{"field":"id","type":"nominal","scale":{"type":"point","domain":["c1","c2","c3","c4","c5","cO"],"padding":1.53,"align":0.36},"axis":null},"text":{"field":"ci"}},"view":{"stroke":"#555555","strokeWidth":0.7,"strokeDash":[0,163,47,116]}},
{"width":44,"height":116,"data":{"name":"C"},"transform":[{"filter":"isValid(datum.w)"}],"mark":{"type":"text","align":"right"},"encoding":{"x":{"datum":"% weight","type":"nominal","scale":{"type":"point","align":0.523},"axis":{"orient":"top","title":null,"labelAlign":"right"}},"y":{"field":"id","type":"nominal","scale":{"type":"point","domain":["c1","c2","c3","c4","c5","cO"],"padding":1.53,"align":0.36},"axis":null},"text":{"field":"w","type":"quantitative","format":".1f"}},"view":{"stroke":"#555555","strokeWidth":0.7,"strokeDash":[0,160,44,116]}},
{"width":21,"height":116,"data":{"name":"C"},"transform":[{"filter":"isValid(datum.s)"}],"mark":{"type":"text","align":"left","font":"DejaVu Sans","fontSize":5.6,"color":"#c4c4c4"},"encoding":{"x":{"datum":"NOS score","type":"nominal","scale":{"type":"point","align":0},"axis":{"orient":"top","title":null,"labelAlign":"left"}},"y":{"field":"id","type":"nominal","scale":{"type":"point","domain":["c1","c2","c3","c4","c5","cO"],"padding":1.53,"align":0.36},"axis":null},"text":{"field":"s"}},"view":{"stroke":"#555555","strokeWidth":0.7,"strokeDash":[0,137,21,116]}},
{"width":10,"height":116,"data":{"name":"C"},"transform":[{"filter":"isValid(datum.c)"}],"mark":{"type":"text","align":"left","font":"DejaVu Sans","fontSize":6.2,"color":"#9a9a9a"},"encoding":{"x":{"datum":"nos2","type":"nominal","scale":{"type":"point","align":0},"axis":{"orient":"top","title":null,"labels":false}},"y":{"field":"id","type":"nominal","scale":{"type":"point","domain":["c1","c2","c3","c4","c5","cO"],"padding":1.53,"align":0.36},"axis":null},"text":{"field":"c"}},"view":{"stroke":"#555555","strokeWidth":0.7,"strokeDash":[0,126,10,116]}},
{"width":22,"height":116,"data":{"name":"C"},"transform":[{"filter":"isValid(datum.o)"}],"mark":{"type":"text","align":"left","font":"DejaVu Sans","fontSize":7,"color":"#505050"},"encoding":{"x":{"datum":"nos3","type":"nominal","scale":{"type":"point","align":0},"axis":{"orient":"top","title":null,"labels":false}},"y":{"field":"id","type":"nominal","scale":{"type":"point","domain":["c1","c2","c3","c4","c5","cO"],"padding":1.53,"align":0.36},"axis":null},"text":{"field":"o"}},"view":{"stroke":"#555555","strokeWidth":0.7,"strokeDash":[0,138,22,116]}}
],"spacing":0,"bounds":"flush"},

{"hconcat":[
{"width":23,"height":102,"data":{"name":"D"},"transform":[{"filter":"datum.kind=='overall'"}],"mark":{"type":"text"},"encoding":{"text":{"value":""},"x":{"datum":"lead","type":"nominal","scale":{"type":"point","range":[13,23]},"axis":{"orient":"top","title":"D","titleX":0,"titleY":-4,"titleAlign":"left","titleBaseline":"alphabetic","titleFontSize":11,"titleColor":"#222222","labels":false}}},"view":{"stroke":"#555555","strokeWidth":0.7,"strokeDash":[0,125,10,115]}},
{"width":8,"height":102,"data":{"name":"D"},"transform":[{"filter":"isValid(datum.mk)"}],"mark":{"type":"point","shape":"square","filled":true,"size":9,"stroke":"#8c8c8c","strokeWidth":0.5},"encoding":{"x":{"datum":"Study","type":"nominal","scale":{"type":"point","align":0},"axis":{"orient":"top","title":null,"labelAlign":"left"}},"y":{"field":"id","type":"nominal","scale":{"type":"point","domain":["d1","d2","d3","dO"],"padding":1.44,"align":0.3},"axis":null},"fill":{"field":"mk","type":"nominal","scale":{"domain":["open","filled"],"range":["#ffffff","#8c8c8c"]},"legend":null}},"view":{"stroke":"#555555","strokeWidth":0.7,"strokeDash":[0,110,8,102]}},
{"width":83,"height":102,"data":{"name":"D"},"mark":{"type":"text","align":"left"},"encoding":{"x":{"datum":"name","type":"nominal","scale":{"type":"point","align":0},"axis":{"orient":"top","title":null,"labels":false}},"y":{"field":"id","type":"nominal","scale":{"type":"point","domain":["d1","d2","d3","dO"],"padding":1.44,"align":0.3},"axis":null},"text":{"field":"name"}},"view":{"stroke":"#555555","strokeWidth":0.7,"strokeDash":[0,185,83,102]}},
{"width":22,"height":102,"data":{"name":"D"},"transform":[{"filter":"datum.kind=='study'"}],"mark":{"type":"text","align":"left"},"encoding":{"x":{"datum":"N95 (n/N)","type":"nominal","scale":{"type":"point","align":0},"axis":{"orient":"top","title":null,"labelAlign":"left","labelFontSize":4.8}},"y":{"field":"id","type":"nominal","scale":{"type":"point","domain":["d1","d2","d3","dO"],"padding":1.44,"align":0.3},"axis":null},"text":{"field":"n1"}},"view":{"stroke":"#555555","strokeWidth":0.7,"strokeDash":[0,124,22,102]}},
{"width":37,"height":102,"data":{"name":"D"},"transform":[{"filter":"datum.kind=='study'"}],"mark":{"type":"text","align":"left"},"encoding":{"x":{"datum":"med (n/N)","type":"nominal","scale":{"type":"point","align":0},"axis":{"orient":"top","title":null,"labelAlign":"left","labelFontSize":4.8}},"y":{"field":"id","type":"nominal","scale":{"type":"point","domain":["d1","d2","d3","dO"],"padding":1.44,"align":0.3},"axis":null},"text":{"field":"n2"}},"view":{"stroke":"#555555","strokeWidth":0.7,"strokeDash":[0,139,37,102]}},
{"width":212,"height":102,"data":{"name":"D"},"view":{"stroke":"#555555","strokeWidth":0.7,"strokeDash":[0,314,212,102]},"resolve":{"scale":{"x":"independent"},"axis":{"x":"independent"}},"layer":[
{"transform":[{"filter":"datum.kind=='overall'"}],"mark":{"type":"rule","strokeOpacity":0},"encoding":{"x":{"datum":"t","type":"nominal","scale":{"type":"point"},"axis":{"orient":"top","title":"N95 vs medical mask","titleX":119,"titleY":-4,"titleAlign":"center","titleBaseline":"alphabetic","titleFontSize":10.3,"titleColor":"#222222","labels":false}}}},
{"layer":[
{"transform":[{"filter":"datum.kind=='overall'"}],"mark":{"type":"rule","color":"#cfcfcf","strokeWidth":0.7},"encoding":{"x":{"datum":1,"type":"quantitative","scale":{"type":"log","domain":[0.025,16],"range":[0,186],"clamp":true,"nice":false},"axis":{"orient":"bottom","values":[0.025,0.125,0.25,0.5,1,2,4,8,16],"format":"~g","labelExpr":"datum.value < 1 ? substring(datum.label, 1) : datum.label","domain":false,"tickSize":3,"tickColor":"#444444","tickWidth":0.6,"labelFontSize":5,"labelPadding":2,"labelOverlap":false,"labelFlush":false,"title":["favours N95\u00a0\u00a0\u00a0\u00a0\u00a0\u00a0\u00a0\u00a0\u00a0\u00a0\u00a0\u00a0\u00a0\u00a0\u00a0\u00a0\u00a0\u00a0\u00a0\u00a0\u00a0\u00a0\u00a0\u00a0\u00a0\u00a0\u00a0\u00a0\u00a0\u00a0\u00a0\u00a0\u00a0\u00a0\u00a0\u00a0\u00a0\u00a0\u00a0\u00a0\u00a0favours medical mask","Odds ratio\u00a0\u00a0\u00a0\u00a0\u00a0\u00a0\u00a0\u00a0\u00a0\u00a0\u00a0\u00a0\u00a0\u00a0\u00a0\u00a0\u00a0\u00a0"],"titleFontSize":6.5,"titleLineHeight":9,"titlePadding":4,"titleX":120}}}},
{"transform":[{"filter":"datum.kind=='overall'"}],"mark":{"type":"rule","color":"#777777","strokeWidth":0.7,"strokeDash":[1.5,1.5]},"encoding":{"x":{"field":"or","type":"quantitative"}}},
{"transform":[{"filter":"datum.kind=='study' && isValid(datum.hi)"}],"mark":{"type":"rule","color":"#444444","strokeWidth":0.7},"encoding":{"x":{"field":"lo","type":"quantitative"},"x2":{"field":"hi"},"y":{"field":"id","type":"nominal","scale":{"type":"point","domain":["d1","d2","d3","dO"],"padding":1.44,"align":0.3},"axis":null}}},
{"transform":[{"filter":"datum.kind=='study' && isValid(datum.or) && datum.or >= 0.025"}],"mark":{"type":"point","shape":"square","filled":true,"color":"#bdbdbd"},"encoding":{"x":{"field":"or","type":"quantitative"},"y":{"field":"id","type":"nominal","axis":null},"size":{"field":"w","type":"quantitative","scale":{"domain":[0,100],"range":[0,13]},"legend":null}}},
{"transform":[{"filter":"datum.kind=='study' && isValid(datum.or) && datum.or >= 0.025"}],"mark":{"type":"point","shape":"circle","filled":true,"color":"#111111","size":4},"encoding":{"x":{"field":"or","type":"quantitative"},"y":{"field":"id","type":"nominal","axis":null}}},
{"data":{"name":"dD"},"mark":{"type":"line","color":"#333333","strokeWidth":0.7,"interpolate":"linear-closed"},"encoding":{"x":{"field":"x","type":"quantitative"},"y":{"datum":"dO","type":"nominal","axis":null},"yOffset":{"field":"h","type":"quantitative","scale":{"domain":[-1,1],"range":[-7,7]}},"order":{"value":null}}}
]}
]},
{"width":50,"height":102,"data":{"name":"D"},"transform":[{"filter":"isValid(datum.ci)"}],"mark":{"type":"text","align":"left"},"encoding":{"x":{"datum":"OR (95% CI)","type":"nominal","scale":{"type":"point","align":0},"axis":{"orient":"top","title":null,"labelAlign":"left"}},"y":{"field":"id","type":"nominal","scale":{"type":"point","domain":["d1","d2","d3","dO"],"padding":1.44,"align":0.3},"axis":null},"text":{"field":"ci"}},"view":{"stroke":"#555555","strokeWidth":0.7,"strokeDash":[0,152,50,102]}},
{"width":44,"height":102,"data":{"name":"D"},"transform":[{"filter":"isValid(datum.w)"}],"mark":{"type":"text","align":"right"},"encoding":{"x":{"datum":"% weight","type":"nominal","scale":{"type":"point","align":0.614},"axis":{"orient":"top","title":null,"labelAlign":"right"}},"y":{"field":"id","type":"nominal","scale":{"type":"point","domain":["d1","d2","d3","dO"],"padding":1.44,"align":0.3},"axis":null},"text":{"field":"w","type":"quantitative","format":".1f"}},"view":{"stroke":"#555555","strokeWidth":0.7,"strokeDash":[0,146,44,102]}},
{"width":21,"height":102,"data":{"name":"D"},"transform":[{"filter":"isValid(datum.s)"}],"mark":{"type":"text","align":"left","font":"DejaVu Sans","fontSize":5.6,"color":"#c4c4c4"},"encoding":{"x":{"datum":"NOS score","type":"nominal","scale":{"type":"point","align":0},"axis":{"orient":"top","title":null,"labelAlign":"left"}},"y":{"field":"id","type":"nominal","scale":{"type":"point","domain":["d1","d2","d3","dO"],"padding":1.44,"align":0.3},"axis":null},"text":{"field":"s"}},"view":{"stroke":"#555555","strokeWidth":0.7,"strokeDash":[0,123,21,102]}},
{"width":10,"height":102,"data":{"name":"D"},"transform":[{"filter":"isValid(datum.c)"}],"mark":{"type":"text","align":"left","font":"DejaVu Sans","fontSize":6.2,"color":"#9a9a9a"},"encoding":{"x":{"datum":"nos2","type":"nominal","scale":{"type":"point","align":0},"axis":{"orient":"top","title":null,"labels":false}},"y":{"field":"id","type":"nominal","scale":{"type":"point","domain":["d1","d2","d3","dO"],"padding":1.44,"align":0.3},"axis":null},"text":{"field":"c"}},"view":{"stroke":"#555555","strokeWidth":0.7,"strokeDash":[0,112,10,102]}},
{"width":22,"height":102,"data":{"name":"D"},"transform":[{"filter":"isValid(datum.o)"}],"mark":{"type":"text","align":"left","font":"DejaVu Sans","fontSize":7,"color":"#505050"},"encoding":{"x":{"datum":"nos3","type":"nominal","scale":{"type":"point","align":0},"axis":{"orient":"top","title":null,"labels":false}},"y":{"field":"id","type":"nominal","scale":{"type":"point","domain":["d1","d2","d3","dO"],"padding":1.44,"align":0.3},"axis":null},"text":{"field":"o"}},"view":{"stroke":"#555555","strokeWidth":0.7,"strokeDash":[0,124,22,102]}}
],"spacing":0,"bounds":"flush"}
],"spacing":30}
],"spacing":34}
],"spacing":25},

{"vconcat":[
{"width":1,"height":1,"data":{"name":"riskRect"},"transform":[{"filter":"datum.pn=='A' && datum.x==0"}],"mark":{"type":"text"},"encoding":{"text":{"value":""}}},
{"vconcat":[
{"width":142,"height":87,"title":{"text":["Plausible risk ratio values for baseline risk of 20-60%","(OR = 0.22)"],"fontSize":5.8,"lineHeight":6.5,"offset":3,"anchor":"middle"},"layer":[
{"data":{"name":"riskRect"},"transform":[{"filter":"datum.pn=='A'"}],"mark":{"type":"rect","color":"#e8e8e8"},"encoding":{"x":{"field":"x","type":"quantitative","scale":{"domain":[0,1],"nice":false},"axis":{"values":[0,0.2,0.4,0.6,0.8,1],"format":".1f","title":"Baseline risk","labelFontSize":5.5,"titleFontSize":6.5,"tickSize":3,"offset":2,"labelPadding":1,"titlePadding":0,"labelFlush":false,"labelOverlap":false,"domainWidth":0.7,"tickWidth":0.7}},"x2":{"field":"x2"},"y":{"field":"y","type":"quantitative","scale":{"domain":[0,1],"nice":false},"axis":{"values":[0,0.2,0.4,0.6,0.8,1],"format":".1f","title":"Risk ratio","labelFontSize":5.5,"titleFontSize":6.5,"tickSize":3,"offset":3,"labelPadding":1.5,"titlePadding":3,"labelFlush":false,"labelOverlap":false,"domainWidth":0.7,"tickWidth":0.7}},"y2":{"field":"y2"}}},
{"data":{"name":"risk"},"transform":[{"filter":"datum.pn=='A'"}],"mark":{"type":"line","color":"#3f6fc6","strokeWidth":1.2,"interpolate":"monotone"},"encoding":{"x":{"field":"p","type":"quantitative","axis":{"values":[0,0.2,0.4,0.6,0.8,1],"format":".1f","title":"Baseline risk","labelFontSize":5.5,"titleFontSize":6.5,"tickSize":3,"offset":2,"labelPadding":1,"titlePadding":0,"labelFlush":false,"labelOverlap":false,"domainWidth":0.7,"tickWidth":0.7}},"y":{"field":"rr","type":"quantitative","axis":{"values":[0,0.2,0.4,0.6,0.8,1],"format":".1f","title":"Risk ratio","labelFontSize":5.5,"titleFontSize":6.5,"tickSize":3,"offset":3,"labelPadding":1.5,"titlePadding":3,"labelFlush":false,"labelOverlap":false,"domainWidth":0.7,"tickWidth":0.7}}}}
]},
{"vconcat":[
{"width":142,"height":87,"title":{"text":["Plausible risk ratio values for baseline risk of 20-60%","(OR = 0.13)"],"fontSize":5.8,"lineHeight":6.5,"offset":3,"anchor":"middle"},"layer":[
{"data":{"name":"riskRect"},"transform":[{"filter":"datum.pn=='B'"}],"mark":{"type":"rect","color":"#e8e8e8"},"encoding":{"x":{"field":"x","type":"quantitative","scale":{"domain":[0,1],"nice":false},"axis":{"values":[0,0.2,0.4,0.6,0.8,1],"format":".1f","title":"Baseline risk","labelFontSize":5.5,"titleFontSize":6.5,"tickSize":3,"offset":2,"labelPadding":1,"titlePadding":0,"labelFlush":false,"labelOverlap":false,"domainWidth":0.7,"tickWidth":0.7}},"x2":{"field":"x2"},"y":{"field":"y","type":"quantitative","scale":{"domain":[0,1],"nice":false},"axis":{"values":[0,0.2,0.4,0.6,0.8,1],"format":".1f","title":"Risk ratio","labelFontSize":5.5,"titleFontSize":6.5,"tickSize":3,"offset":3,"labelPadding":1.5,"titlePadding":3,"labelFlush":false,"labelOverlap":false,"domainWidth":0.7,"tickWidth":0.7}},"y2":{"field":"y2"}}},
{"data":{"name":"risk"},"transform":[{"filter":"datum.pn=='B'"}],"mark":{"type":"line","color":"#3f6fc6","strokeWidth":1.2,"interpolate":"monotone"},"encoding":{"x":{"field":"p","type":"quantitative","axis":{"values":[0,0.2,0.4,0.6,0.8,1],"format":".1f","title":"Baseline risk","labelFontSize":5.5,"titleFontSize":6.5,"tickSize":3,"offset":2,"labelPadding":1,"titlePadding":0,"labelFlush":false,"labelOverlap":false,"domainWidth":0.7,"tickWidth":0.7}},"y":{"field":"rr","type":"quantitative","axis":{"values":[0,0.2,0.4,0.6,0.8,1],"format":".1f","title":"Risk ratio","labelFontSize":5.5,"titleFontSize":6.5,"tickSize":3,"offset":3,"labelPadding":1.5,"titlePadding":3,"labelFlush":false,"labelOverlap":false,"domainWidth":0.7,"tickWidth":0.7}}}}
]},
{"vconcat":[
{"width":142,"height":87,"title":{"text":["Plausible risk ratio values for baseline risk of 20-60%","(OR = 0.12)"],"fontSize":5.8,"lineHeight":6.5,"offset":3,"anchor":"middle"},"layer":[
{"data":{"name":"riskRect"},"transform":[{"filter":"datum.pn=='C'"}],"mark":{"type":"rect","color":"#e8e8e8"},"encoding":{"x":{"field":"x","type":"quantitative","scale":{"domain":[0,1],"nice":false},"axis":{"values":[0,0.2,0.4,0.6,0.8,1],"format":".1f","title":"Baseline risk","labelFontSize":5.5,"titleFontSize":6.5,"tickSize":3,"offset":2,"labelPadding":1,"titlePadding":0,"labelFlush":false,"labelOverlap":false,"domainWidth":0.7,"tickWidth":0.7}},"x2":{"field":"x2"},"y":{"field":"y","type":"quantitative","scale":{"domain":[0,1],"nice":false},"axis":{"values":[0,0.2,0.4,0.6,0.8,1],"format":".1f","title":"Risk ratio","labelFontSize":5.5,"titleFontSize":6.5,"tickSize":3,"offset":3,"labelPadding":1.5,"titlePadding":3,"labelFlush":false,"labelOverlap":false,"domainWidth":0.7,"tickWidth":0.7}},"y2":{"field":"y2"}}},
{"data":{"name":"risk"},"transform":[{"filter":"datum.pn=='C'"}],"mark":{"type":"line","color":"#3f6fc6","strokeWidth":1.2,"interpolate":"monotone"},"encoding":{"x":{"field":"p","type":"quantitative","axis":{"values":[0,0.2,0.4,0.6,0.8,1],"format":".1f","title":"Baseline risk","labelFontSize":5.5,"titleFontSize":6.5,"tickSize":3,"offset":2,"labelPadding":1,"titlePadding":0,"labelFlush":false,"labelOverlap":false,"domainWidth":0.7,"tickWidth":0.7}},"y":{"field":"rr","type":"quantitative","axis":{"values":[0,0.2,0.4,0.6,0.8,1],"format":".1f","title":"Risk ratio","labelFontSize":5.5,"titleFontSize":6.5,"tickSize":3,"offset":3,"labelPadding":1.5,"titlePadding":3,"labelFlush":false,"labelOverlap":false,"domainWidth":0.7,"tickWidth":0.7}}}}
]},
{"width":142,"height":87,"title":{"text":["Plausible risk ratio values for baseline risk of 20-60%","(OR = 0.86)"],"fontSize":5.8,"lineHeight":6.5,"offset":3,"anchor":"middle"},"layer":[
{"data":{"name":"riskRect"},"transform":[{"filter":"datum.pn=='D'"}],"mark":{"type":"rect","color":"#e8e8e8"},"encoding":{"x":{"field":"x","type":"quantitative","scale":{"domain":[0,1],"nice":false},"axis":{"values":[0,0.2,0.4,0.6,0.8,1],"format":".1f","title":"Baseline risk","labelFontSize":5.5,"titleFontSize":6.5,"tickSize":3,"offset":2,"labelPadding":1,"titlePadding":0,"labelFlush":false,"labelOverlap":false,"domainWidth":0.7,"tickWidth":0.7}},"x2":{"field":"x2"},"y":{"field":"y","type":"quantitative","scale":{"domain":[0,1],"nice":false},"axis":{"values":[0,0.2,0.4,0.6,0.8,1],"format":".1f","title":"Risk ratio","labelFontSize":5.5,"titleFontSize":6.5,"tickSize":3,"offset":3,"labelPadding":1.5,"titlePadding":3,"labelFlush":false,"labelOverlap":false,"domainWidth":0.7,"tickWidth":0.7}},"y2":{"field":"y2"}}},
{"data":{"name":"risk"},"transform":[{"filter":"datum.pn=='D'"}],"mark":{"type":"line","color":"#3f6fc6","strokeWidth":1.2,"interpolate":"monotone"},"encoding":{"x":{"field":"p","type":"quantitative","axis":{"values":[0,0.2,0.4,0.6,0.8,1],"format":".1f","title":"Baseline risk","labelFontSize":5.5,"titleFontSize":6.5,"tickSize":3,"offset":2,"labelPadding":1,"titlePadding":0,"labelFlush":false,"labelOverlap":false,"domainWidth":0.7,"tickWidth":0.7}},"y":{"field":"rr","type":"quantitative","axis":{"values":[0,0.2,0.4,0.6,0.8,1],"format":".1f","title":"Risk ratio","labelFontSize":5.5,"titleFontSize":6.5,"tickSize":3,"offset":3,"labelPadding":1.5,"titlePadding":3,"labelFlush":false,"labelOverlap":false,"domainWidth":0.7,"tickWidth":0.7}}}}
]}
],"spacing":67}
],"spacing":72}
],"spacing":86}
],"spacing":9}
],
"spacing":9
}
